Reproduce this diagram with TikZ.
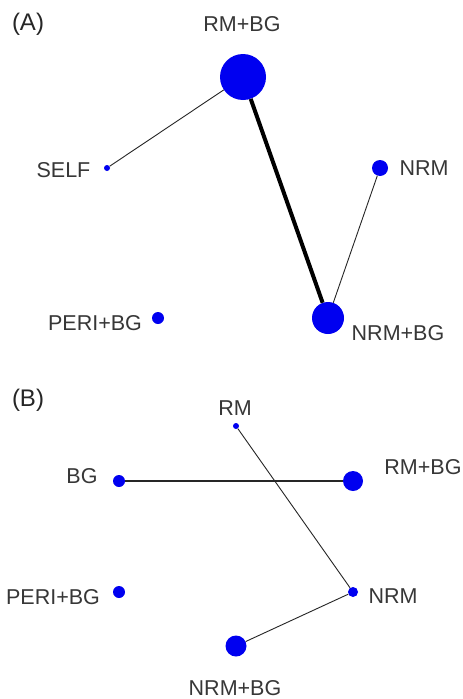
\documentclass[tikz,border=0pt]{standalone}
\usepackage{fontspec}
\setmainfont{Liberation Sans}
\definecolor{nodeblue}{RGB}{0,0,240}
\definecolor{labgray}{RGB}{55,55,55}
\begin{document}
\begin{tikzpicture}[x=1pt,y=-1pt,
  dot/.style={circle,fill=nodeblue,draw=none,inner sep=0pt,minimum size=#1},
  lab/.style={font=\fontsize{21.5}{25}\selectfont,text=labgray,inner sep=0pt},
  panel/.style={font=\fontsize{24}{28}\selectfont,text=black!85,inner sep=0pt},
  thinedge/.style={draw=black!85,line width=0.9pt},
  thickedge/.style={draw=black,line width=4pt}]
\useasboundingbox (0,0) rectangle (463,699);
\fill[white] (0,0) rectangle (463,699);
% Panel A
\node[panel] (pA) at (28,24) {(A)};
\node[dot=46pt] (aRMBG) at (243,77) {};
\node[dot=6pt] (aSELF) at (107,168) {};
\node[dot=16pt] (aNRM) at (380,168) {};
\node[dot=12pt] (aPERI) at (158,318) {};
\node[dot=32pt] (aNRMBG) at (328,318) {};
\node[lab] (laRMBG) at (242,24) {RM+BG};
\node[lab] (laSELF) at (63.5,170) {SELF};
\node[lab] (laNRM) at (424,168) {NRM};
\node[lab] (laPERI) at (95,323) {PERI+BG};
\node[lab] (laNRMBG) at (398,333) {NRM+BG};
\draw[thinedge] (aRMBG) -- (aSELF);
\draw[thickedge] (aRMBG) -- (aNRMBG);
\draw[thinedge] (aNRM) -- (aNRMBG);
% Panel B
\node[panel] (pB) at (28,400) {(B)};
\node[dot=6pt] (bRM) at (236,426) {};
\node[dot=12pt] (bBG) at (119,481) {};
\node[dot=20pt] (bRMBG) at (353,481) {};
\node[dot=12pt] (bPERI) at (119,592) {};
\node[dot=10pt] (bNRM) at (353,592) {};
\node[dot=21pt] (bNRMBG) at (236,646) {};
\node[lab] (lbRM) at (235,408) {RM};
\node[lab] (lbBG) at (82,476) {BG};
\node[lab] (lbRMBG) at (423,467) {RM+BG};
\node[lab] (lbPERI) at (53,597) {PERI+BG};
\node[lab] (lbNRM) at (393,596) {NRM};
\node[lab] (lbNRMBG) at (235,688) {NRM+BG};
\draw[thinedge,line width=1.3pt] (bBG) -- (bRMBG);
\draw[thinedge] (bRM) -- (bNRM);
\draw[thinedge] (bNRM) -- (bNRMBG);
\end{tikzpicture}
\end{document}
